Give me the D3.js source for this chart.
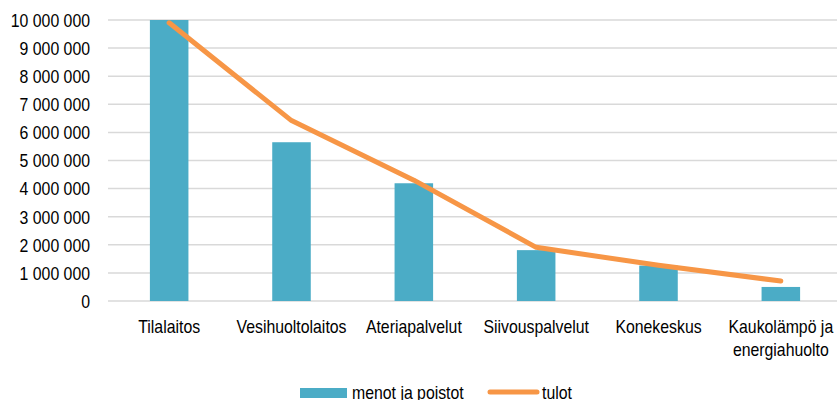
<!DOCTYPE html>
<html>
<head>
<meta charset="utf-8">
<script src="https://cdn.jsdelivr.net/npm/d3@7"></script>
<style>
  body { margin: 0; background: #fff; }
  svg text { font-family: "Liberation Sans", Arial, sans-serif; fill: #000; font-size: 18px; }
</style>
</head>
<body>
<svg id="chart"></svg>
<script>
// ==============================
// DATA
// ==============================
const categories = ["Tilalaitos", "Vesihuoltolaitos", "Ateriapalvelut", "Siivouspalvelut", "Konekeskus", "Kaukolämpö ja\nenergiahuolto"];
const menot = [10000000, 5650000, 4190000, 1810000, 1260000, 500000];
const tulot = [9900000, 6420000, 4300000, 1910000, 1270000, 710000];
const yTicks = [0, 1000000, 2000000, 3000000, 4000000, 5000000, 6000000, 7000000, 8000000, 9000000, 10000000];
const seriesNames = ["menot ja poistot", "tulot"];

// ==============================
// SVG + DIMENSIONS
// ==============================
const width = 837, height = 400;
const svg = d3.select("#chart").attr("width", width).attr("height", height);

const margin = { top: 20, left: 108, bottom: 99 };
const x = d3.scaleBand().domain(categories).range([margin.left, 842]).padding(0);
const y = d3.scaleLinear().domain([0, 10000000]).range([height - margin.bottom, margin.top]);

const barColor = "#4BACC6";
const lineColor = "#F79646";
const squeeze = 0.88; // narrow look of the original font
const fmt = v => d3.format(",")(v).replace(/,/g, " ");
const place = (px, py) => `translate(${px},${py}) scale(${squeeze},1)`;

// gridlines
svg.append("g")
  .selectAll("line")
  .data(yTicks)
  .join("line")
  .attr("x1", margin.left)
  .attr("x2", 842)
  .attr("y1", d => y(d))
  .attr("y2", d => y(d))
  .attr("stroke", "#D9D9D9")
  .attr("stroke-width", 1.5);

// y labels
svg.append("g")
  .selectAll("text")
  .data(yTicks)
  .join("text")
  .attr("transform", d => place(90, y(d)))
  .attr("dy", "0.38em")
  .attr("text-anchor", "end")
  .text(fmt);

// bars
const barW = x.bandwidth() * 0.315;
svg.append("g")
  .selectAll("rect")
  .data(menot)
  .join("rect")
  .attr("x", (d, i) => x(categories[i]) + x.bandwidth() / 2 - barW / 2)
  .attr("y", d => y(d))
  .attr("width", barW)
  .attr("height", d => y(0) - y(d))
  .attr("fill", barColor);

// line
const line = d3.line()
  .x((d, i) => x(categories[i]) + x.bandwidth() / 2)
  .y(d => y(d));

svg.append("path")
  .datum(tulot)
  .attr("d", line)
  .attr("fill", "none")
  .attr("stroke", lineColor)
  .attr("stroke-width", 5)
  .attr("stroke-linecap", "round")
  .attr("stroke-linejoin", "round");

// category labels
const catLabels = svg.append("g")
  .selectAll("text")
  .data(categories)
  .join("text")
  .attr("transform", d => place(x(d) + x.bandwidth() / 2, 333))
  .attr("text-anchor", "middle");

catLabels.each(function (d) {
  d3.select(this).selectAll("tspan")
    .data(d.split("\n"))
    .join("tspan")
    .attr("x", 0)
    .attr("dy", (p, i) => i === 0 ? 0 : 23)
    .text(p => p);
});

// ==============================
// LEGEND
// ==============================
const legend = svg.append("g");
legend.append("rect")
  .attr("x", 300).attr("y", 388)
  .attr("width", 47).attr("height", 10)
  .attr("fill", barColor);
legend.append("text")
  .attr("transform", place(352, 399))
  .text(seriesNames[0]);
legend.append("line")
  .attr("x1", 490).attr("x2", 537)
  .attr("y1", 392).attr("y2", 392)
  .attr("stroke", lineColor)
  .attr("stroke-width", 5)
  .attr("stroke-linecap", "round");
legend.append("text")
  .attr("transform", place(542, 399))
  .text(seriesNames[1]);
</script>
</body>
</html>
